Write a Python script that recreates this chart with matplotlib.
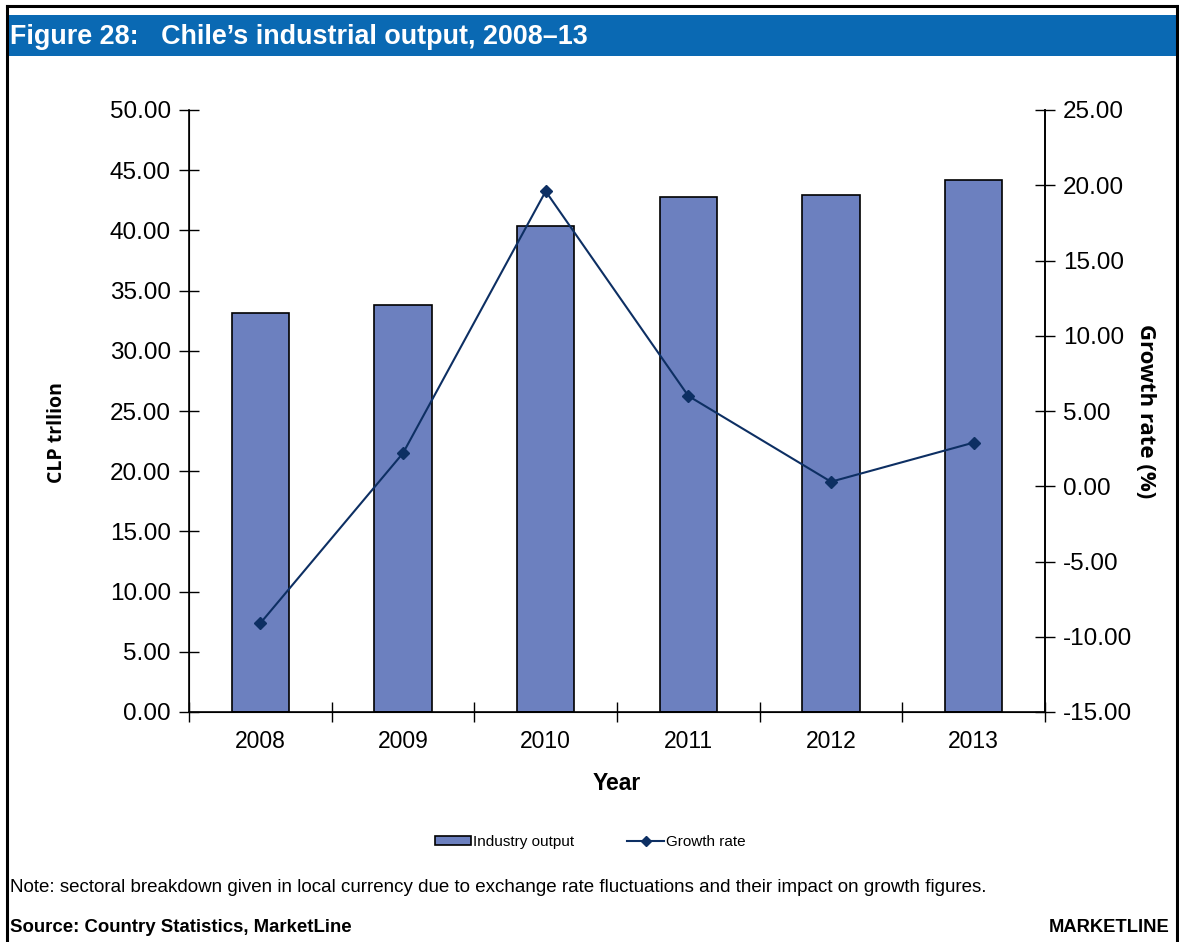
import matplotlib
matplotlib.use("Agg")
import matplotlib.pyplot as plt
from matplotlib.patches import Rectangle
from matplotlib.lines import Line2D
import numpy as np

plt.rcParams['font.family'] = ['Liberation Sans', 'DejaVu Sans']

years = ["2008", "2009", "2010", "2011", "2012", "2013"]
output_clp_trn = [33.1, 33.8, 40.4, 42.8, 42.96, 44.2]
growth_pct = [-9.1, 2.2, 19.6, 6.0, 0.3, 2.9]

left_ticks = [0, 5, 10, 15, 20, 25, 30, 35, 40, 45, 50]
right_ticks = [-15, -10, -5, 0, 5, 10, 15, 20, 25]

BAR_COLOR = "#6c80bf"
LINE_COLOR = "#0d2f63"
BANNER_BLUE = "#0a69b3"

W, H = 1179, 942
fig = plt.figure(figsize=(W / 100, H / 100), dpi=100)

def fx(px):
    return px / W

def fy(py):
    return 1 - py / H

# page frame (top, left, right)
fig.add_artist(Line2D([fx(7), fx(1177)], [fy(6), fy(6)], color="black", lw=2.2, transform=fig.transFigure))
fig.add_artist(Line2D([fx(7), fx(7)], [fy(6), fy(942)], color="black", lw=2.2, transform=fig.transFigure))
fig.add_artist(Line2D([fx(1177), fx(1177)], [fy(6), fy(942)], color="black", lw=2.2, transform=fig.transFigure))

# title banner
fig.add_artist(Rectangle((fx(8), fy(56)), fx(1176) - fx(8), fy(15) - fy(56),
                         facecolor=BANNER_BLUE, edgecolor="none", transform=fig.transFigure))
fig.text(fx(10), fy(37), "Figure 28:   Chile\u2019s industrial output, 2008\u201313",
         color="white", fontsize=19.4, fontweight="bold", va="center", ha="left")

ax = fig.add_axes([fx(189), fy(712), fx(1045) - fx(189), fy(110) - fy(712)])
x = np.arange(len(years))
ax.bar(x, output_clp_trn, width=0.4, color=BAR_COLOR, edgecolor="black", linewidth=1.2,
       label="Industry output", zorder=2)
ax.set_xlim(-0.5, len(years) - 0.5)
ax.set_ylim(0, 50)
ax.set_yticks(left_ticks)
ax.set_yticklabels([f"{v:.2f}" for v in left_ticks], fontsize=17.5)
ax.set_xticks(np.arange(-0.5, len(years), 1.0))
ax.set_xticklabels([])
ax.set_xticks(x, minor=True)
ax.set_xticklabels(years, minor=True, fontsize=16.5)
ax.tick_params(axis="x", which="minor", length=0, pad=13)
ax.tick_params(axis="x", which="major", direction="inout", length=14, width=1)
ax.tick_params(axis="y", direction="inout", length=14, width=1, pad=6)
ax.spines["top"].set_visible(False)
for s in ("left", "bottom", "right"):
    ax.spines[s].set_linewidth(1.2)
ax.set_xlabel("Year", fontsize=16.5, fontweight="bold", labelpad=14)
ax.set_ylabel("CLP trllion", fontsize=14, fontweight="bold", family=["Open Sans", "DejaVu Sans"])
ax.yaxis.set_label_coords(-0.143, 0.465)

ax2 = ax.twinx()
ax2.plot(x, growth_pct, color=LINE_COLOR, lw=1.5, marker="D", markersize=6,
         label="Growth rate", zorder=3)
ax2.set_ylim(-15, 25)
ax2.set_yticks(right_ticks)
ax2.set_yticklabels([f"{v:.2f}" for v in right_ticks], fontsize=17.5)
ax2.tick_params(axis="y", direction="inout", length=14, width=1, pad=6)
ax2.spines["top"].set_visible(False)
ax2.spines["right"].set_linewidth(1.2)
ax2.set_ylabel("Growth rate (%)", fontsize=16, fontweight="bold", rotation=270,
               family=["Open Sans", "DejaVu Sans"])
ax2.yaxis.set_label_coords(1.13, 0.5)

# legend
handles = [Rectangle((0, 0), 1, 1, facecolor=BAR_COLOR, edgecolor="black", linewidth=1.2),
           Line2D([], [], color=LINE_COLOR, lw=1.5, marker="D", markersize=5)]
fig.legend(handles, ["Industry output", "Growth rate"], loc="center",
           bbox_to_anchor=(fx(590), fy(842)), ncol=2, frameon=False, fontsize=11,
           handlelength=2.4, handleheight=0.6, handletextpad=0.1, columnspacing=3.5)

fig.text(fx(10), fy(887), "Note: sectoral breakdown given in local currency due to exchange rate "
         "fluctuations and their impact on growth figures.", fontsize=13.5, va="center", ha="left")
fig.text(fx(10), fy(928), "Source: Country Statistics, MarketLine", fontsize=13.4,
         fontweight="bold", va="center", ha="left")
fig.text(fx(1170), fy(928), "MARKETLINE", fontsize=13.2, fontweight="bold", va="center", ha="right")

fig.savefig("out.png", dpi=100)
